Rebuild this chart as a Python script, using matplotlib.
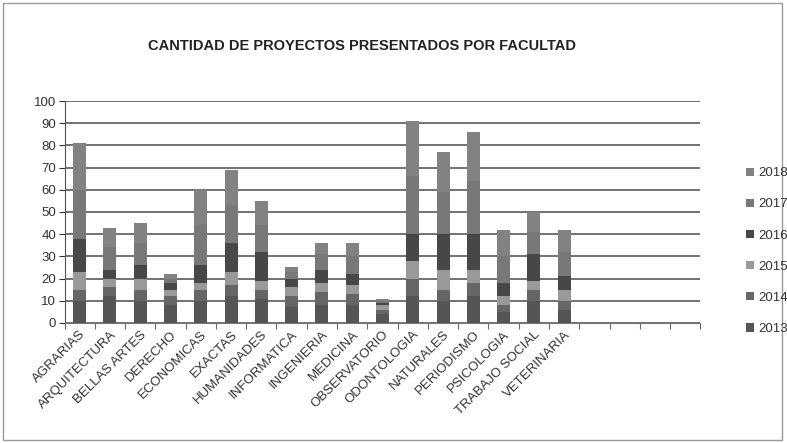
import matplotlib
matplotlib.use("Agg")
import matplotlib.pyplot as plt
import numpy as np
from matplotlib.patches import Rectangle

plt.rcParams["font.family"] = ["Liberation Sans", "DejaVu Sans"]

# ── Data ────────────────────────────────────────────────────────────────────
facultades = ["AGRARIAS", "ARQUITECTURA", "BELLAS ARTES", "DERECHO", "ECONOMICAS",
              "EXACTAS", "HUMANIDADES", "INFORMATICA", "INGENIERIA", "MEDICINA",
              "OBSERVATORIO", "ODONTOLOGIA", "NATURALES", "PERIODISMO", "PSICOLOGIA",
              "TRABAJO SOCIAL", "VETERINARIA", "", "", "", ""]
years = ["2013", "2014", "2015", "2016", "2017", "2018"]

v2013 = [10, 12, 10, 8, 10, 12, 11, 7, 8, 8, 4, 12, 10, 12, 5, 10, 6, 0, 0, 0, 0]
v2014 = [5, 4, 5, 4, 5, 5, 4, 5, 6, 5, 2, 8, 5, 6, 3, 5, 4, 0, 0, 0, 0]
v2015 = [8, 4, 5, 3, 3, 6, 4, 4, 4, 4, 2, 8, 9, 6, 4, 4, 5, 0, 0, 0, 0]
v2016 = [15, 4, 6, 3, 8, 13, 13, 4, 6, 5, 1, 12, 16, 16, 6, 12, 6, 0, 0, 0, 0]
v2017 = [22, 10, 10, 2, 18, 17, 12, 3, 7, 8, 1, 26, 19, 24, 12, 10, 11, 0, 0, 0, 0]
v2018 = [21, 9, 9, 2, 16, 16, 11, 2, 5, 6, 1, 25, 18, 22, 12, 9, 10, 0, 0, 0, 0]

series = [v2013, v2014, v2015, v2016, v2017, v2018]
colors = ["#555555", "#666666", "#999999", "#474747", "#787878", "#828282"]

# ── Figure ──────────────────────────────────────────────────────────────────
fig = plt.figure(figsize=(7.87, 4.43), dpi=100, facecolor="white")
ax = fig.add_axes([0.082, 0.271, 0.808, 0.501])

x = np.arange(len(facultades))
bottom = np.zeros(len(facultades))
handles = []
for vals, yr, col in zip(series, years, colors):
    vals = np.array(vals, dtype=float)
    b = ax.bar(x, vals, width=0.43, bottom=bottom, color=col,
               edgecolor="none", label=yr, zorder=3)
    handles.append(b)
    bottom += vals

ax.set_ylim(0, 100)
ax.set_xlim(-0.5, len(facultades) - 0.5)
ax.set_yticks(range(0, 101, 10))
ax.tick_params(axis="y", labelsize=9.5, colors="#333333", length=4, width=0.8,
               direction="out", pad=2)
ax.grid(axis="y", color="#4a4a4a", linewidth=1.1, zorder=1)

# category ticks sit between bars
ax.set_xticks(x)
ax.set_xticklabels(facultades, rotation=45, ha="right", rotation_mode="anchor",
                   fontsize=9.5, color="#333333")
ax.tick_params(axis="x", length=0, pad=4)
ax.set_xticks(np.arange(-0.5, len(facultades), 1), minor=True)
ax.tick_params(axis="x", which="minor", length=4, width=0.8, color="#666666",
               direction="out")

for side in ["top", "right"]:
    ax.spines[side].set_visible(False)
ax.spines["left"].set_color("#555555")
ax.spines["bottom"].set_color("#777777")

fig.text(0.46, 0.897, "CANTIDAD DE PROYECTOS PRESENTADOS POR FACULTAD",
         ha="center", va="center", fontsize=10.5, fontweight="bold", color="#222222")

leg = fig.legend(handles=handles[::-1], labels=years[::-1],
                 loc="center left", bbox_to_anchor=(0.948, 0.433),
                 frameon=False, fontsize=9.5, handlelength=0.6, handleheight=0.6,
                 labelspacing=1.45, handletextpad=0.3, borderpad=0, borderaxespad=0)
for t in leg.get_texts():
    t.set_color("#333333")

# outer chart border
fig.patches.append(Rectangle((0.004, 0.006), 0.99, 0.988, transform=fig.transFigure,
                             fill=False, edgecolor="#9a9a9a", linewidth=1.0))

fig.savefig("out.png", dpi=100, facecolor="white")
